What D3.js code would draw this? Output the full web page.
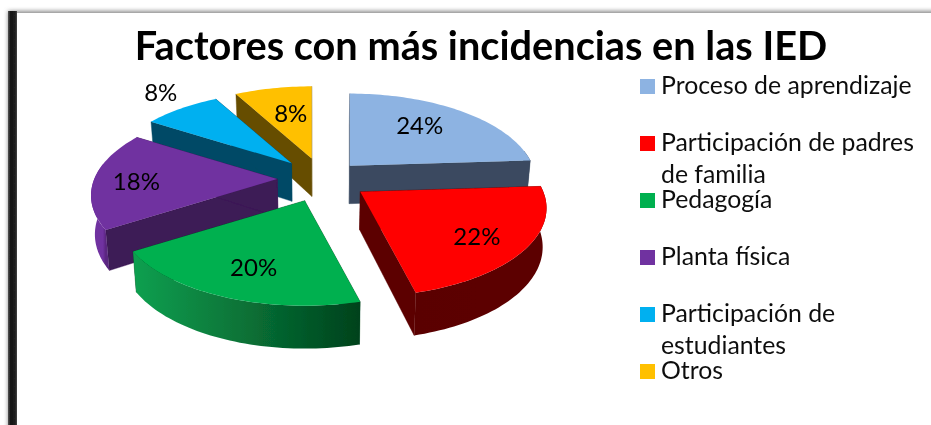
<!DOCTYPE html>
<html lang="es"><head><meta charset="utf-8">
<script src="https://cdn.jsdelivr.net/npm/d3@7"></script>
<style>html,body{margin:0;padding:0;background:#fff}svg{display:block}</style></head>
<body><svg id="c" width="931" height="425"></svg>
<script>
const titleText = "Factores con más incidencias en las IED";
const categories = ["Proceso de aprendizaje","Participación de padres de familia","Pedagogía","Planta física","Participación de estudiantes","Otros"];
const values = [24,22,20,18,8,8];
const topColors = ["#8db3e2","#ff0000","#00b050","#7030a0","#00b0f0","#ffc000"];
const cutColors = ["#3a4a60","#5c0000","#004a20","#3c1a56","#004a66","#664d00"];
const arcFrom = ["#3a4a60","#5c0000","#00421c","#5a2780","#004a66","#664d00"];
const arcTo   = ["#3a4a60","#5a0000","#10a050","#7030a0","#004a66","#664d00"];
const legendLines = [["Proceso de aprendizaje"],["Participación de padres","de familia"],["Pedagogía"],["Planta física"],["Participación de","estudiantes"],["Otros"]];
// layout
const explode = [.22,.245,.26,.25,.26,.26];
const labelR = [.673,.745,.717,.767,1.31,.611];
const labelTurn = [-4.6,2.6,-1.7,-1.7,2.9,2.4];
const paintOrder = [5,0,4,3,2,1];
const cx=323, cy=179, rx=183, ry=85.5, k=.186, depth=38, vanishX=320;
const rimLimit = 1.75; // rim is visible only below this angle from the front of the pie

const svg=d3.select("#c");
const defs=svg.append("defs");
defs.append("filter").attr("id","blur").attr("x","-5%").attr("y","-5%").attr("width","110%").attr("height","110%")
  .append("feGaussianBlur").attr("stdDeviation",2);
defs.append("filter").attr("id","soft").append("feGaussianBlur").attr("stdDeviation",.45);
defs.append("filter").attr("id","softText").attr("x","-5%").attr("y","-20%").attr("width","110%").attr("height","140%")
  .append("feGaussianBlur").attr("stdDeviation",.3);
const lg=defs.append("linearGradient").attr("id","leftBand");
[[0,"#555"],[.3,"#111"],[.8,"#222"],[1,"#444"]].forEach(s=>lg.append("stop").attr("offset",s[0]).attr("stop-color",s[1]));

// frame
svg.append("rect").attr("x",8).attr("y",11).attr("width",930).attr("height",430).attr("fill","#8a8a8a").attr("filter","url(#blur)");
svg.append("rect").attr("x",8).attr("y",11).attr("width",9).attr("height",430).attr("fill","url(#leftBand)").attr("filter","url(#soft)");
svg.append("rect").attr("x",17).attr("y",13).attr("width",920).attr("height",420).attr("fill","#fff");

const color=d3.scaleOrdinal(categories,topColors);
const pie=d3.pie().sort(null).value(d=>d)(values);
const proj=(r,a)=>{const X=r*Math.sin(a),Y=-r*Math.cos(a),f=1/(1-k*Y);return [rx*X*f,ry*Y*f];};
const line=d3.line();
const g=svg.append("g").attr("filter","url(#soft)");

const geo=pie.map((p,i)=>{
  const mid=(p.startAngle+p.endAngle)/2, e=proj(explode[i],mid);
  const apex=[cx+e[0],cy+e[1]];
  const pt=(r,a)=>{const q=proj(r,a);return [apex[0]+q[0],apex[1]+q[1]];};
  const low=(P,a,r)=>{const Y=-r*Math.cos(a);return [P[0]+(vanishX-P[0])*.017,P[1]+depth*(1+.13*Y)];};
  return {p,i,mid,apex,pt,low};
});

paintOrder.forEach(i=>{
  const s=geo[i], a0=s.p.startAngle, a1=s.p.endAngle;
  const n=Math.max(6,Math.round((a1-a0)*40));
  const grp=g.append("g").attr("class","slice");
  // cut walls
  [a0,a1].forEach(a=>{
    const P=s.pt(1,a);
    grp.append("path").attr("fill",cutColors[i]).attr("stroke",cutColors[i]).attr("stroke-width",.4)
      .attr("d",line([s.apex,P,s.low(P,a,1),s.low(s.apex,a,0)])+"Z");
  });
  // rim wall, front-facing part only, shaded along the arc
  const r0=Math.max(a0,Math.PI-rimLimit), r1=Math.min(a1,Math.PI+rimLimit);
  if(r1>r0){
    const angles=d3.range(n+1).map(j=>r0+(r1-r0)*j/n);
    const upper=angles.map(a=>s.pt(1,a));
    const lower=angles.map((a,j)=>s.low(upper[j],a,1));
    const gid="rim"+i;
    const gr=defs.append("linearGradient").attr("id",gid).attr("gradientUnits","userSpaceOnUse")
      .attr("x1",upper[0][0]).attr("y1",0).attr("x2",upper[n][0]).attr("y2",0);
    gr.append("stop").attr("offset",0).attr("stop-color",arcFrom[i]);
    gr.append("stop").attr("offset",1).attr("stop-color",arcTo[i]);
    grp.append("path").attr("fill",`url(#${gid})`)
      .attr("d",line(upper.concat(lower.reverse()))+"Z");
  }
  // top face
  const outline=[s.apex].concat(d3.range(n+1).map(j=>s.pt(1,a0+(a1-a0)*j/n)));
  grp.append("path").attr("fill",color(categories[i])).attr("d",line(outline)+"Z");
});

// value labels
const labels=svg.append("g").attr("filter","url(#softText)");
geo.forEach(s=>{
  const a=s.mid+labelTurn[s.i]*Math.PI/180, P=s.pt(labelR[s.i],a);
  labels.append("text").attr("x",P[0]).attr("y",P[1]).attr("text-anchor","middle").attr("dominant-baseline","central")
    .attr("font-family","Lato, 'Open Sans', sans-serif").attr("font-size",24).attr("fill","#000").text(values[s.i]+"%");
});

// title
svg.append("text").attr("x",481).attr("y",60).attr("text-anchor","middle").attr("font-family","Lato, sans-serif")
  .attr("font-weight",700).attr("font-size",39.7).attr("fill","#000").attr("filter","url(#softText)").text(titleText);

// legend
const legendY=d3.scalePoint().domain(categories).range([94,379]);
const lineStep=32;
const lg2=svg.append("g").attr("font-family","Lato, sans-serif").attr("font-size",24.8).attr("fill","#111").attr("filter","url(#softText)");
categories.forEach((c,i)=>{
  const bottom=legendY(c);
  lg2.append("rect").attr("x",640).attr("y",bottom-15).attr("width",15).attr("height",15).attr("fill",color(c));
  legendLines[i].forEach((t,j)=>{
    lg2.append("text").attr("x",661).attr("y",bottom+j*lineStep).text(t);
  });
});
</script></body></html>
